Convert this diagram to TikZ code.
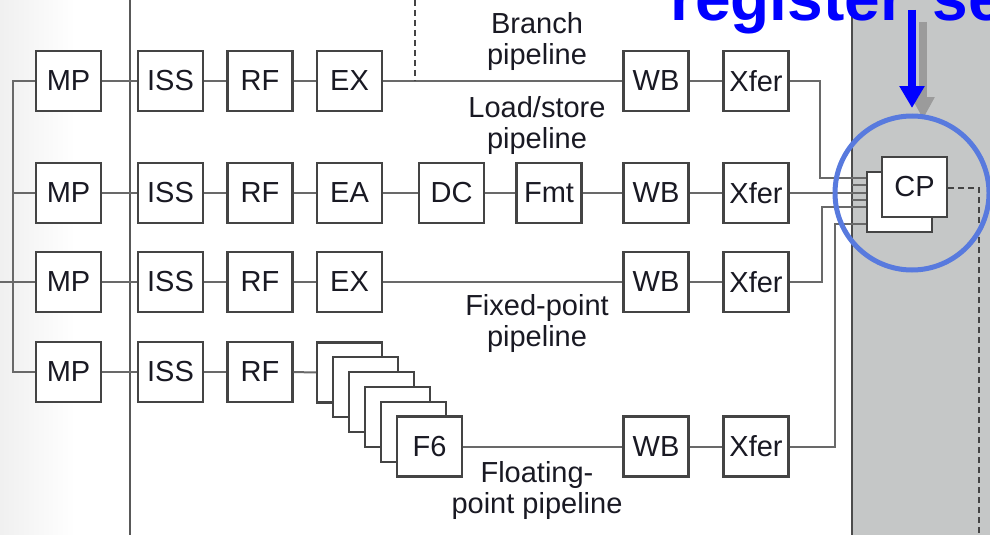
\documentclass[tikz,border=0pt]{standalone}
\usepackage{fontspec}
\setmainfont{Liberation Sans}
\usetikzlibrary{arrows.meta}
\definecolor{boxline}{RGB}{68,68,68}
\definecolor{wirec}{RGB}{105,105,105}
\definecolor{panel}{RGB}{197,199,199}
\definecolor{ringblue}{RGB}{88,122,222}
\definecolor{titleblue}{RGB}{0,0,255}
\definecolor{garrow}{RGB}{155,155,155}
\definecolor{txt}{RGB}{25,25,35}
\begin{document}
\begin{tikzpicture}[x=1pt,y=-1pt,
  stage/.style={draw=boxline, line width=2.2pt, fill=white, minimum width=65pt,
    minimum height=60pt, inner sep=0pt, text=txt, font=\fontsize{29}{31}\selectfont},
  wire/.style={draw=wirec, line width=2pt},
  dashwire/.style={draw=boxline, line width=2pt, dash pattern=on 6pt off 4pt},
  lbl/.style={font=\fontsize{29}{31}\selectfont, align=center, inner sep=0pt,
    anchor=north, text=txt},
]
\useasboundingbox (0,0) rectangle (990,535);
\clip (0,0) rectangle (990,535);
% backgrounds
\shade[left color=black!6, right color=white] (0,0) rectangle (75,535);
\fill[panel] (852,0) rectangle (990,535);
\coordinate (pt) at (852,0);
\coordinate (pb) at (852,535);
\draw[line width=2pt, draw=black!70] (pt) -- (pb);
\coordinate (vt) at (130,0);
\coordinate (vb) at (130,535);
\draw[wire, draw=black!65] (vt) -- (vb);

% row 1
\node[stage] (mp1)  at (68.5,81) {MP};
\node[stage] (iss1) at (170.5,81) {ISS};
\node[stage] (rf1)  at (260,81) {RF};
\node[stage] (ex1)  at (349.5,81) {EX};
\node[stage] (wb1)  at (656,81) {WB};
\node[stage] (xf1)  at (756,81) {Xfer};
% row 2
\node[stage] (mp2)  at (68.5,193) {MP};
\node[stage] (iss2) at (170.5,193) {ISS};
\node[stage] (rf2)  at (260,193) {RF};
\node[stage] (ea2)  at (349.5,193) {EA};
\node[stage] (dc2)  at (451.5,193) {DC};
\node[stage] (fmt2) at (549,193) {Fmt};
\node[stage] (wb2)  at (656,193) {WB};
\node[stage] (xf2)  at (756,193) {Xfer};
% row 3
\node[stage] (mp3)  at (68.5,282) {MP};
\node[stage] (iss3) at (170.5,282) {ISS};
\node[stage] (rf3)  at (260,282) {RF};
\node[stage] (ex3)  at (349.5,282) {EX};
\node[stage] (wb3)  at (656,282) {WB};
\node[stage] (xf3)  at (756,282) {Xfer};
% row 4
\node[stage] (mp4)  at (68.5,372) {MP};
\node[stage] (iss4) at (170.5,372) {ISS};
\node[stage] (rf4)  at (260,372) {RF};
\foreach \k in {1,...,5} {
  \node[stage] (f\k) at ({349.5+16*(\k-1)},{372.5+14.8*(\k-1)}) {};
}
\node[stage] (f6)  at (429.5,446.5) {F6};
\node[stage] (wb5) at (656,446.5) {WB};
\node[stage] (xf5) at (756,446.5) {Xfer};
% CP
\node[stage] (cpb) at (899.5,202) {};
\node[stage] (cp)  at (914.5,187) {CP};

% left tree
\coordinate (in3) at (0,282);
\draw[wire] (mp1.west) -- ++(-22,0) |- (mp4.west);
\draw[wire] (mp2.west) -- ++(-22,0);
\draw[wire] (in3) -- (mp3.west);

% pipeline wires
\draw[wire] (mp1) -- (iss1);
\draw[wire] (iss1) -- (rf1);
\draw[wire] (rf1) -- (ex1);
\draw[wire] (ex1) -- (wb1);
\draw[wire] (wb1) -- (xf1);
\draw[wire] (mp2) -- (iss2);
\draw[wire] (iss2) -- (rf2);
\draw[wire] (rf2) -- (ea2);
\draw[wire] (ea2) -- (dc2);
\draw[wire] (dc2) -- (fmt2);
\draw[wire] (fmt2) -- (wb2);
\draw[wire] (wb2) -- (xf2);
\draw[wire] (mp3) -- (iss3);
\draw[wire] (iss3) -- (rf3);
\draw[wire] (rf3) -- (ex3);
\draw[wire] (ex3) -- (wb3);
\draw[wire] (wb3) -- (xf3);
\draw[wire] (mp4) -- (iss4);
\draw[wire] (iss4) -- (rf4);
\draw[wire] (rf4) -- (f1);
\draw[wire] (f6) -- (wb5);
\draw[wire] (wb5) -- (xf5);

% branch dashed
\coordinate (brt) at (415,0);
\draw[dashwire] (brt) -- (415,81);

% into CP
\draw[wire] (xf1.east) -- (820,81) |- (cpb.west |- 0,178);
\draw[wire] (xf2.east) -- (cpb.west |- 0,193);
\draw[wire] (xf3.east) -- (822,282) |- (cpb.west |- 0,207);
\draw[wire] (xf5.east) -- (835,446.5) |- (cpb.west |- 0,224);
\coordinate (s1) at (852,185);
\coordinate (s2) at (852,200);
\draw[wire] (s1) -- (cpb.west |- s1);
\draw[wire] (s2) -- (cpb.west |- s2);
\coordinate (db) at (979,535);
\draw[dashwire] (cp.east |- 0,188) -- (979,188) -- (db);

% labels
\node[lbl] (lbr) at (537,12.2) {Branch\\pipeline};
\node[lbl] (lls) at (537,96.2) {Load/store\\pipeline};
\node[lbl] (lfx) at (537,294.2) {Fixed-point\\pipeline};
\node[lbl] (lfl) at (537,461.2) {Floating-\\point pipeline};

% annotations
\coordinate (ga) at (923,22);
\coordinate (gb) at (923,119);
\draw[line width=8pt, garrow, -{Triangle[width=22pt,length=22pt]}] (ga) -- (gb);
\draw[ringblue, line width=5pt] (912,193) circle[radius=77];
\coordinate (ba) at (912,10);
\coordinate (bb) at (912,108);
\draw[line width=8pt, titleblue, -{Triangle[width=24pt,length=22pt]}] (ba) -- (bb);
\node[anchor=base west, inner sep=0pt, text=titleblue,
  font=\bfseries\fontsize{64}{64}\selectfont] (title) at (670,21) {register\kern10pt\ se};
\end{tikzpicture}
\end{document}
